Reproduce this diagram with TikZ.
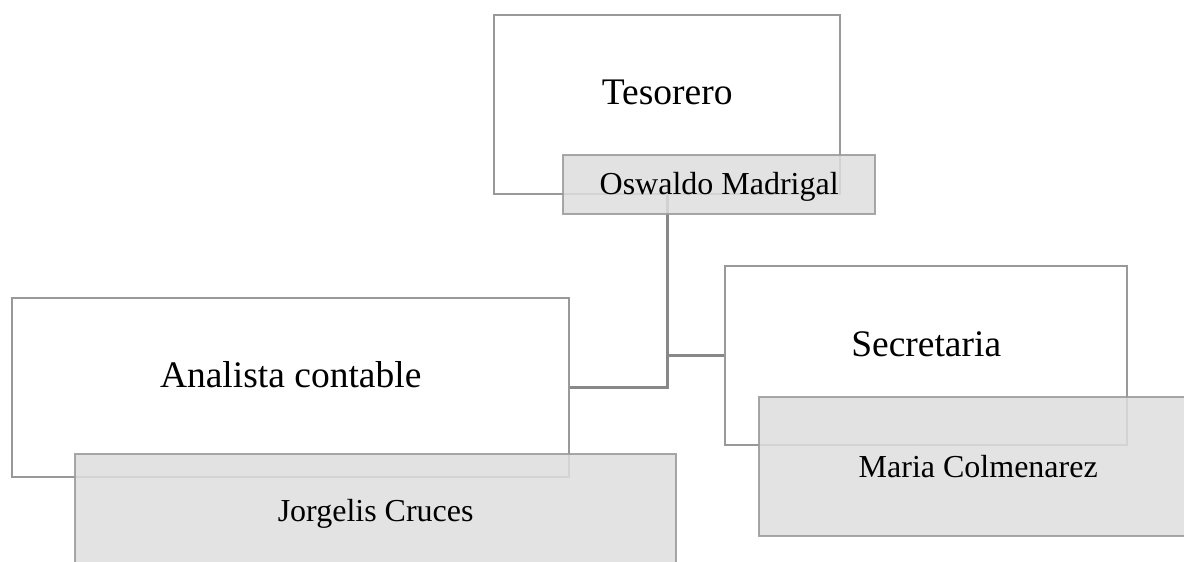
\documentclass[tikz,border=0pt]{standalone}
\usepackage{fontspec}
\setmainfont{Liberation Serif}
\definecolor{boxline}{HTML}{999999}
\definecolor{connline}{HTML}{888888}
\definecolor{namefill}{HTML}{DEDEDE}
\begin{document}
\begin{tikzpicture}[x=1pt,y=-1pt,
  rolebox/.style={draw=boxline, line width=2.4pt, fill=white, inner sep=0pt, anchor=north west,
    font=\fontsize{37.5}{41}\selectfont, align=center},
  namebox/.style={draw=boxline, line width=2.4pt, fill=namefill, fill opacity=0.85, draw opacity=0.85,
    text opacity=1, inner sep=0pt, anchor=north west, font=\fontsize{32}{36}\selectfont, align=center},
  conn/.style={draw=connline, line width=2.6pt}]
\useasboundingbox (0,0) rectangle (1184,562);
\clip (0,0) rectangle (1184,562);
% role boxes
\node[rolebox, minimum width=346pt, text height=89pt, text depth=90pt] (tes) at (493,14) {Tesorero};
\node[rolebox, minimum width=557pt, text height=89pt, text depth=90pt] (ana) at (11,297) {Analista contable};
\node[rolebox, minimum width=402pt, text height=90pt, text depth=89pt] (sec) at (724,265) {Secretaria};
% connectors
\draw[conn] (tes.south) |- (ana.east);
\draw[conn] (tes.south |- sec.west) -- (sec.west);
% name boxes
\node[namebox, minimum width=312pt, text height=39pt, text depth=20pt] (osw) at (562,154) {Oswaldo Madrigal};
\node[namebox, minimum width=601pt, text height=67pt, text depth=45pt] (jor) at (74,453) {Jorgelis Cruces};
\node[namebox, minimum width=438pt, text height=80pt, text depth=59pt] (mar) at (758,396) {Maria Colmenarez};
\end{tikzpicture}
\end{document}
